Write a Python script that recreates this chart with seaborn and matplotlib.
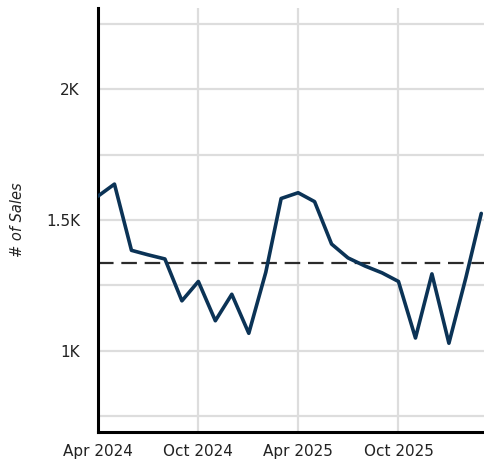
import seaborn as sns
import numpy as np
import pandas as pd
import matplotlib
matplotlib.use("Agg")
from matplotlib import pyplot as plt, dates as mdates, ticker

months = pd.date_range("2024-04-01", "2026-03-01", freq="MS")
sales = [1591, 1637, 1384, 1367, 1351, 1191, 1265, 1115, 1216, 1067, 1300, 1582,
         1604, 1570, 1408, 1355, 1324, 1298, 1265, 1049, 1294, 1029, 1280, 1525]
y_ticks = [1000, 1500, 2000]
y_tick_labels = ["1K", "1.5K", "2K"]

df = pd.DataFrame({"month": months, "sales": sales})

sns.set_theme(style="white")
plt.rcParams["font.family"] = ["DejaVu Sans"]

fig = plt.figure(figsize=(4.84, 4.68), dpi=100)
ax = fig.add_axes([0.2025, 0.077, 0.7975, 0.906])

sns.lineplot(data=df, x="month", y="sales", ax=ax, color="#0b3356", linewidth=2.6, zorder=3)
ax.axhline(np.mean(sales), color="#2b2b2b", linewidth=1.6, dashes=(7, 3.5), zorder=2)

ax.set_ylim(690, 2310)
ax.set_xlim(pd.Timestamp("2024-04-01"), pd.Timestamp("2026-03-06"))
ax.yaxis.set_major_locator(ticker.FixedLocator(y_ticks))
ax.yaxis.set_major_formatter(ticker.FixedFormatter(y_tick_labels))
ax.yaxis.set_minor_locator(ticker.MultipleLocator(250))
ax.xaxis.set_major_locator(mdates.MonthLocator(bymonth=[4, 10]))
ax.xaxis.set_major_formatter(mdates.DateFormatter("%b %Y"))

ax.grid(True, which="both", color="#dddddd", linewidth=1.6, zorder=0)
ax.set_axisbelow(True)
ax.tick_params(axis="both", which="both", length=0, labelsize=11, colors="#222222")
ax.tick_params(axis="y", pad=13)
ax.tick_params(axis="x", pad=9)

for side in ["top", "right"]:
    ax.spines[side].set_visible(False)
for side in ["left", "bottom"]:
    ax.spines[side].set_color("black")
    ax.spines[side].set_linewidth(2.2)

ax.set_xlabel("")
ax.set_ylabel("# of Sales", fontsize=10.5, style="italic", color="#222222", labelpad=15)

plt.savefig("out.png", dpi=100)
plt.close()
